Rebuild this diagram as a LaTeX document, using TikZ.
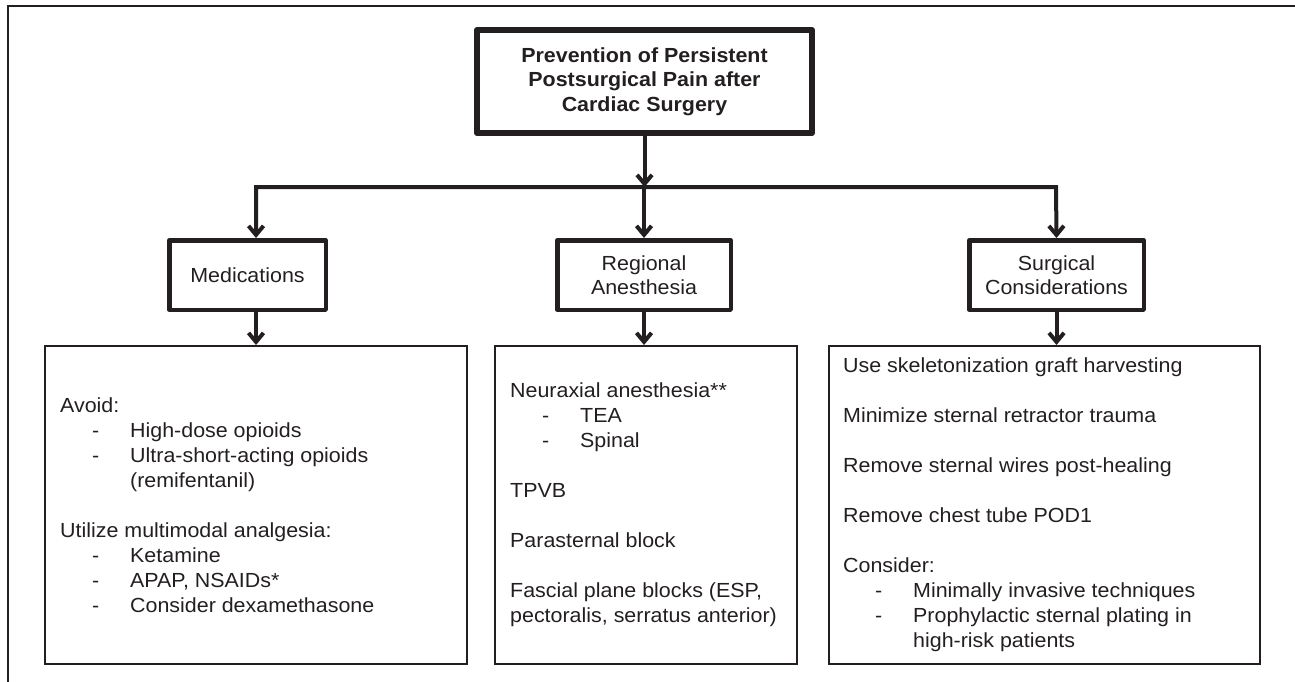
\documentclass[tikz,border=0pt]{standalone}
\usepackage{fontspec}
\setmainfont{Liberation Sans}[FakeStretch=1.05]
\usepackage{tikz}
\usetikzlibrary{positioning,arrows.meta}
\definecolor{ink}{RGB}{35,31,32}
% list helpers
\newcommand{\itemdash}{\hspace*{32pt}\makebox[38pt][l]{-}}
\newcommand{\itemcont}{\hspace*{70pt}}
\tikzset{
  >={Straight Barb[length=9pt,width=15pt]},
  conn/.style={draw=ink,line width=4pt},
  titlebox/.style={draw=ink,line width=6pt,minimum width=335pt,minimum height=103pt,
    align=center,inner sep=0pt,line join=round,text=ink,
    font=\fontsize{20.4pt}{24.5pt}\selectfont\bfseries},
  groupbox/.style={draw=ink,line width=4.5pt,minimum height=69.5pt,align=center,
    inner sep=0pt,line join=round,text=ink,font=\fontsize{20.4pt}{24pt}\selectfont},
  listbox/.style={draw=ink,line width=2pt,minimum height=318pt,inner sep=0pt},
  listtext/.style={align=left,inner sep=0pt,text=ink,
    font=\fontsize{20.4pt}{25pt}\selectfont},
}
\begin{document}
\begin{tikzpicture}[x=1pt,y=-1pt]
		\useasboundingbox (0,0) rectangle (1295,682);
		% frame
		\draw[ink,line width=2pt] (8,682) -- (8,6) -- (1295,6);

		% title
		\node[titlebox] (title) at (644.5,81.5) {Prevention of Persistent\\Postsurgical Pain after\\Cardiac Surgery};

		% groups
		\node[groupbox,minimum width=156.5pt] (med) at (247.5,275) {Medications};
		\node[groupbox,minimum width=173.5pt] (reg) at (644,275) {Regional\\Anesthesia};
		\node[groupbox,minimum width=174.5pt] (surg) at (1056.5,275) {Surgical\\Considerations};

		% lists
		\node[listbox,minimum width=422pt] (medlist) at (256,505) {};
		\node[listbox,minimum width=302pt] (reglist) at (646,505) {};
		\node[listbox,minimum width=431pt] (surglist) at (1044.5,505) {};

		\node[listtext,right=16pt of medlist.west] (medtext) {Avoid:\\
			\itemdash High-dose opioids\\
			\itemdash Ultra-short-acting opioids\\
			\itemcont (remifentanil)\\[25pt]
			Utilize multimodal analgesia:\\
			\itemdash Ketamine\\
			\itemdash APAP, NSAIDs*\\
			\itemdash Consider dexamethasone};
		\node[listtext,right=16pt of reglist.west] (regtext) {Neuraxial anesthesia**\\
			\itemdash TEA\\
			\itemdash Spinal\\[25pt]
			TPVB\\[25pt]
			Parasternal block\\[25pt]
			Fascial plane blocks (ESP,\\
			pectoralis, serratus anterior)};
		\node[listtext,right=15pt of surglist.west] (surgtext) {Use skeletonization graft harvesting\\[25pt]
			Minimize sternal retractor trauma\\[25pt]
			Remove sternal wires post-healing\\[25pt]
			Remove chest tube POD1\\[25pt]
			Consider:\\
			\itemdash Minimally invasive techniques\\
			\itemdash Prophylactic sternal plating in\\
			\itemcont high-risk patients};

		% connectors
		\coordinate (hl) at (256,187);
		\coordinate (hr) at (1056,187);
		\draw[conn,->] (title) -- (title |- hl);
		\draw[conn,<->] (hl |- med.north) -- (hl) -- (hr) -- (surg.north);
		\draw[conn,->] (reg.north |- hl) -- (reg);
		\draw[conn,->] (medlist.north |- med.south) -- (medlist);
		\draw[conn,->] (reg) -- (reg |- reglist.north);
		\draw[conn,->] (surg) -- (surg |- surglist.north);
\end{tikzpicture}
\end{document}
